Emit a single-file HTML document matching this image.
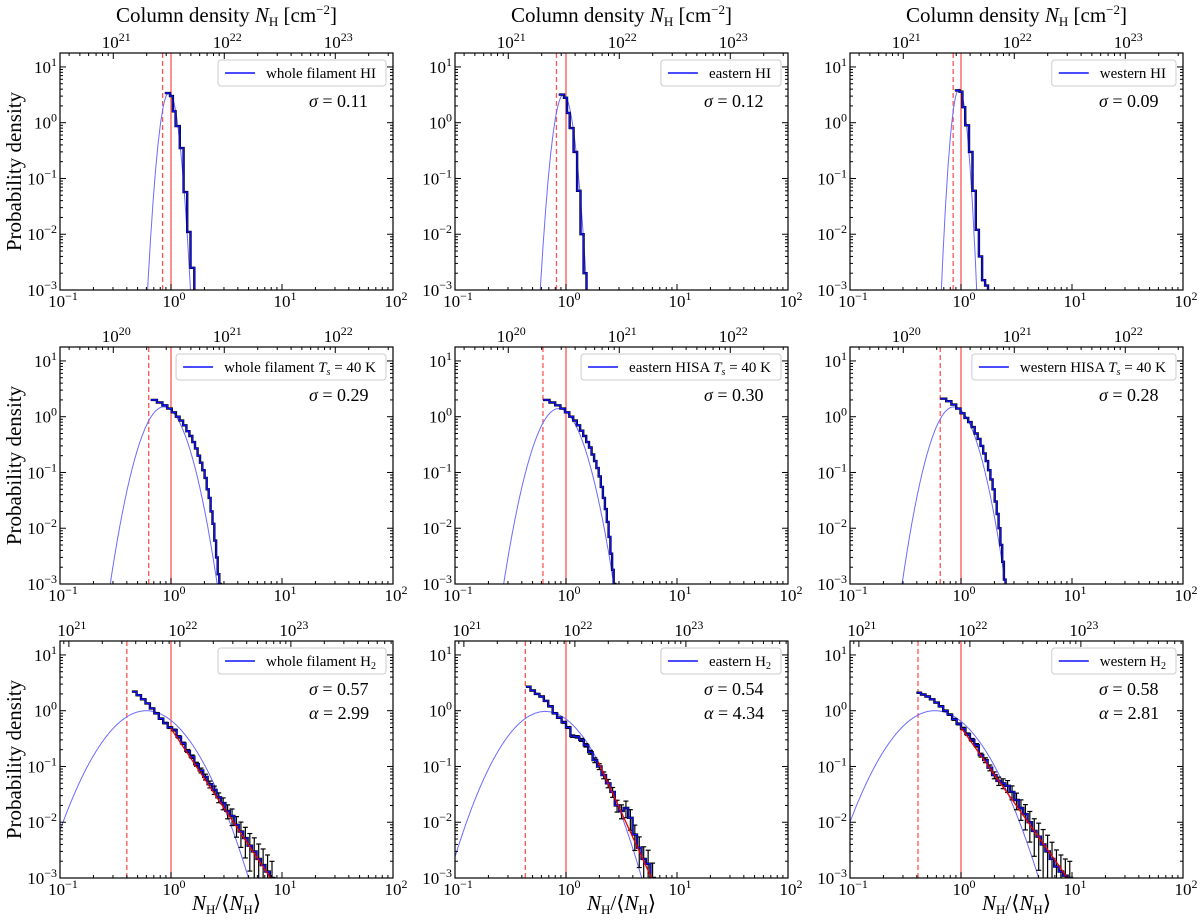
<!DOCTYPE html>
<html><head><meta charset="utf-8"><style>
html,body{margin:0;background:#fff;overflow:hidden;width:1200px;height:922px}
svg{display:block;font-family:"Liberation Serif","DejaVu Serif",serif}
</style></head><body>
<svg id="fig" width="1200" height="922" viewBox="0 0 1200 922" xmlns="http://www.w3.org/2000/svg"></svg>
<script>
// ---- data ----
const legendLabels=[["whole filament HI","eastern HI","western HI"],
 ["whole filament T_s = 40 K","eastern HISA T_s = 40 K","western HISA T_s = 40 K"],
 ["whole filament H2","eastern H2","western H2"]];
const sigmaLabels=[["0.11","0.12","0.09"],["0.29","0.30","0.28"],["0.57","0.54","0.58"]];
const alphaLabels=["2.99","4.34","2.81"];
const alphaVals=[2.99,4.34,2.81];
const plawAmp=[0.48,2.2,0.5];
const plawStart=[1.0,1.95,1.0];
const dashedX=[[0.84,0.82,0.85],[0.63,0.62,0.65],[0.40,0.43,0.41]];
const fitAmp=[[3.5,3.2,4.0],[1.5,1.4,1.5],[1.0,0.97,1.0]];
const fitPeak=[[0.96,0.95,0.96],[0.86,0.86,0.86],[0.6,0.65,0.58]];
const fitSigma=[[0.11,0.12,0.09],[0.29,0.30,0.28],[0.57,0.54,0.58]];
const topLogMean=[21.52,20.52,21.92];
const topDecades=[[21,22,23],[20,21,22],[21,22,23]];
// row 1 histograms (edges + values)
const hiEdges=[[0.88,0.98,1.04,1.10,1.20,1.30,1.40,1.50,1.62],
 [0.86,0.96,1.02,1.08,1.17,1.26,1.35,1.44,1.53],
 [0.88,0.97,1.03,1.09,1.18,1.27,1.36,1.45,1.55,1.65,1.75]];
const hiVals=[[3.4,3.0,1.6,0.87,0.35,0.057,0.011,0.0025],
 [3.2,2.8,1.5,0.8,0.3,0.06,0.01,0.002],
 [3.8,3.6,1.9,0.9,0.3,0.06,0.012,0.004,0.0015,0.0012]];
// row 2 histograms: start + linear bin width + values
const hisaStart=[0.656,0.62,0.65];
const hisaWidth=[0.09,0.09,0.085];
const hisaVals=[[2.0,1.8,1.6,1.4,1.2,1.0,0.85,0.7,0.55,0.45,0.35,0.27,0.2,0.15,0.11,0.08,0.05,0.035,0.02,0.012,0.006,0.003,0.0015,0.001],
 [2.0,1.8,1.6,1.4,1.2,1.0,0.85,0.7,0.56,0.45,0.35,0.28,0.21,0.16,0.12,0.085,0.055,0.035,0.022,0.013,0.007,0.0035,0.0018,0.001],
 [2.1,1.9,1.65,1.4,1.15,0.95,0.8,0.65,0.5,0.4,0.3,0.22,0.16,0.11,0.075,0.05,0.03,0.018,0.01,0.005,0.0025,0.0012]];
// row 3 histograms: log bins, start given, step 0.04 dex
const h2LogStart=[-0.35,-0.36,-0.40];
const h2Vals=[[2.2,1.9,1.6,1.35,1.1,0.9,0.72,0.6,0.5,0.45,0.34,0.26,0.19,0.15,0.11,0.085,0.065,0.048,0.038,0.028,0.022,0.016,0.013,0.009,0.0068,0.0052,0.0038,0.003,0.0022,0.0017,0.0013,0.001],
 [2.7,2.3,2.0,1.8,1.5,1.2,0.9,0.75,0.62,0.5,0.35,0.34,0.3,0.24,0.18,0.13,0.1,0.07,0.05,0.035,0.02,0.016,0.018,0.012,0.006,0.0035,0.0022,0.0018,0.001],
 [2.1,1.95,1.8,1.6,1.4,1.2,1.0,0.85,0.7,0.58,0.48,0.38,0.3,0.24,0.16,0.13,0.095,0.07,0.055,0.05,0.045,0.035,0.025,0.018,0.014,0.01,0.007,0.0055,0.004,0.003,0.0022,0.0016,0.0013,0.0011,0.001]];
const relErr=[0.02,0.02,0.02,0.02,0.02,0.03,0.03,0.03,0.04,0.04,0.05,0.05,0.06,0.07,0.08,0.1,0.12,0.14,0.17,0.2,0.24,0.28,0.33,0.4,0.48,0.56,0.65,0.75,0.85,0.95,0.99,0.99,0.99,0.99,0.99];

// ---- layout ----
const NS="http://www.w3.org/2000/svg";
const svg=document.getElementById('fig');
const colLeft=[60,455,850], axW=333, rowTop=[53,347,641], axH=237;
const xMinL=-1,xMaxL=2,yMinL=-3,yMaxL=1.25;
function mk(tag,attrs,parent){const e=document.createElementNS(NS,tag);for(const k in attrs)e.setAttribute(k,attrs[k]);(parent||svg).appendChild(e);return e;}
function powLabel(g,x,y,exp,anchor){
  const t=mk('text',{x:x,y:y,'font-size':17,'text-anchor':anchor||'middle',fill:'#000'},g);
  t.textContent='10';
  const s=mk('tspan',{dy:-7,'font-size':12},t);s.textContent=exp;
  return t;
}
for(let r=0;r<3;r++)for(let c=0;c<3;c++){
  const L=colLeft[c],T=rowTop[r],R=L+axW,B=T+axH;
  const X=v=>L+(Math.log10(v)-xMinL)/(xMaxL-xMinL)*axW;
  const Y=v=>B-(Math.log10(Math.max(v,1e-8))-yMinL)/(yMaxL-yMinL)*axH;
  const g=mk('g',{});
  
  
  const cid='clip'+r+c;
  const cp=mk('clipPath',{id:cid},g);mk('rect',{x:L,y:T,width:axW,height:axH},cp);
  const pg=mk('g',{'clip-path':'url(#'+cid+')'},g);
  const vl=mk('line',{x1:X(1),x2:X(1),y1:T,y2:B,stroke:'#f55',"stroke-width":1.3},pg);
  
  const dl=mk('line',{x1:X(dashedX[r][c]),x2:X(dashedX[r][c]),y1:T,y2:B,stroke:'#f55',"stroke-width":1.3,'stroke-dasharray':'5,3'},pg);
  
  let d='';const mu=Math.log(fitPeak[r][c]),sg=fitSigma[r][c],A=fitAmp[r][c];
  for(let i=0;i<=400;i++){const lx=xMinL+i*(xMaxL-xMinL)/400,x=Math.pow(10,lx);
    const v=A*Math.exp(-Math.pow(Math.log(x)-mu,2)/(2*sg*sg));d+=(i?'L':'M')+X(x).toFixed(1)+','+Y(v).toFixed(1);}
  const fc=mk('path',{d:d,fill:'none',stroke:'#6b6bff','stroke-width':1},pg);
  
  let edges=[],vals=[];
  if(r===0){edges=hiEdges[c];vals=hiVals[c];}
  else if(r===1){vals=hisaVals[c];for(let i=0;i<=vals.length;i++)edges.push(hisaStart[c]+i*hisaWidth[c]);}
  else{vals=h2Vals[c];for(let i=0;i<=vals.length;i++)edges.push(Math.pow(10,h2LogStart[c]+0.04*i));}
  let hp='M'+X(edges[0])+','+Y(vals[0]);
  for(let i=0;i<vals.length;i++){hp+='H'+X(edges[i+1]).toFixed(1);if(i+1<vals.length)hp+='V'+Y(vals[i+1]).toFixed(1);}
  hp+='V'+(B+5);
  if(r===2){
    const eg=mk('g',{stroke:'#000','stroke-width':1.2},pg);
    
    for(let i=0;i<vals.length;i++){const xc=X(Math.sqrt(edges[i]*edges[i+1])),v=vals[i],e=relErr[i];
      const y1=Y(v*(1+e)),y2=Y(Math.max(v*(1-e),1e-5));
      mk('line',{x1:xc,x2:xc,y1:y1,y2:y2},eg);mk('line',{x1:xc-2.5,x2:xc+2.5,y1:y1,y2:y1},eg);mk('line',{x1:xc-2.5,x2:xc+2.5,y1:y2,y2:y2},eg);}
  }
  mk('path',{d:hp,fill:'none',stroke:'#000','stroke-width':2.4},pg);
  const hh=mk('path',{d:hp,fill:'none',stroke:'#1010ff','stroke-width':1.3},pg);
  
  if(r===2){let pd='';const l0=Math.log10(plawStart[c]);for(let i=0;i<=60;i++){const x=Math.pow(10,l0+i*(1.2-l0)/60);const v=plawAmp[c]*Math.pow(x,-alphaVals[c]);pd+=(i?'L':'M')+X(x).toFixed(1)+','+Y(v).toFixed(1);}
    const pl=mk('path',{d:pd,fill:'none',stroke:'#e00','stroke-width':1.3},pg);
    }
  mk('rect',{x:L,y:T,width:axW,height:axH,fill:'none',stroke:'#000','stroke-width':1.2},g);
  const tk=mk('g',{stroke:'#000','stroke-width':1},g);
  for(let k=-1;k<=2;k++){
    const x=X(Math.pow(10,k));mk('line',{x1:x,x2:x,y1:B,y2:B-6},tk);
    powLabel(g,x+3,B+17,k<0?'−1':String(k));
    if(k<2)for(let m=2;m<10;m++){const xm=X(m*Math.pow(10,k));mk('line',{x1:xm,x2:xm,y1:B,y2:B-3},tk);}
  }
  for(let k=-3;k<=1;k++){const y=Y(Math.pow(10,k));mk('line',{x1:L,x2:L+6,y1:y,y2:y},tk);mk('line',{x1:R,x2:R-6,y1:y,y2:y},tk);
    powLabel(g,L-3,y+6,k<0?'−'+(-k):String(k),'end');
    for(let m=2;m<10;m++){const v=m*Math.pow(10,k);if(Math.log10(v)>yMaxL)break;const ym=Y(v);mk('line',{x1:L,x2:L+3,y1:ym,y2:ym},tk);mk('line',{x1:R,x2:R-3,y1:ym,y2:ym},tk);}}
  const lm=topLogMean[r];
  for(let k=Math.floor(lm+xMinL);k<=Math.ceil(lm+xMaxL);k++){
    for(let m=1;m<10;m++){const lx=Math.log10(m)+k-lm;if(lx<xMinL||lx>xMaxL)continue;const x=L+(lx-xMinL)/(xMaxL-xMinL)*axW;
      mk('line',{x1:x,x2:x,y1:T,y2:T+(m===1?6:3)},tk);
      if(m===1&&topDecades[r].includes(k))powLabel(g,x+3,T-5,String(k));}
  }
  const lg=mk('g',{},g);
  const lab=legendLabels[r][c];
  const box=mk('rect',{x:0,y:T+7,width:10,height:26,rx:3,fill:'#fff',stroke:'#ccc'},lg);
  const ln=mk('line',{y1:T+20,y2:T+20,stroke:'#1010ff','stroke-width':1.6},lg);
  const lt=mk('text',{x:0,y:T+25,'font-size':15},lg);
  if(lab.indexOf('T_s')>=0){const p=lab.split('T_s');lt.textContent=p[0];const ti=mk('tspan',{'font-style':'italic'},lt);ti.textContent='T';const ts=mk('tspan',{'font-size':10,dy:3,'font-style':'italic'},lt);ts.textContent='s';const tr=mk('tspan',{dy:-3},lt);tr.textContent=p[1];}
  else if(lab.endsWith('H2')){lt.textContent=lab.slice(0,-1);const ts=mk('tspan',{'font-size':10,dy:3},lt);ts.textContent='2';}
  else lt.textContent=lab;
  const tw=lt.getComputedTextLength();
  const bw=tw+58, bx=R-7-bw;
  box.setAttribute('x',bx);box.setAttribute('width',bw);
  ln.setAttribute('x1',bx+7);ln.setAttribute('x2',bx+37);
  lt.setAttribute('x',bx+48);
  const st=mk('text',{x:R-84,y:T+54,'font-size':18},g);
  
  st.innerHTML='<tspan font-style="italic">σ</tspan> = '+sigmaLabels[r][c];
  if(r===2){const at=mk('text',{x:R-84,y:T+78,'font-size':18},g);
    
    at.innerHTML='<tspan font-style="italic">α</tspan> = '+alphaLabels[c];}
  if(c===0){const yl=mk('text',{x:0,y:0,'font-size':21,'text-anchor':'middle',transform:'translate(21,'+(T+axH/2)+') rotate(-90)'},g);
    yl.textContent='Probability density';}
  if(r===0){const tt=mk('text',{x:L+axW/2,y:22,'font-size':21,'text-anchor':'middle'},g);
    
    tt.innerHTML='Column density <tspan font-style="italic">N</tspan><tspan font-size="13" dy="4">H</tspan><tspan dy="-4"> [cm</tspan><tspan font-size="13" dy="-8">−2</tspan><tspan dy="8">]</tspan>';}
  if(r===2){const bt=mk('text',{x:L+axW/2,y:910,'font-size':21,'text-anchor':'middle'},g);
    
    bt.innerHTML='<tspan font-style="italic">N</tspan><tspan font-size="13" dy="4">H</tspan><tspan dy="-4">/⟨</tspan><tspan font-style="italic">N</tspan><tspan font-size="13" dy="4">H</tspan><tspan dy="-4">⟩</tspan>';}
}
</script>
</body></html>
